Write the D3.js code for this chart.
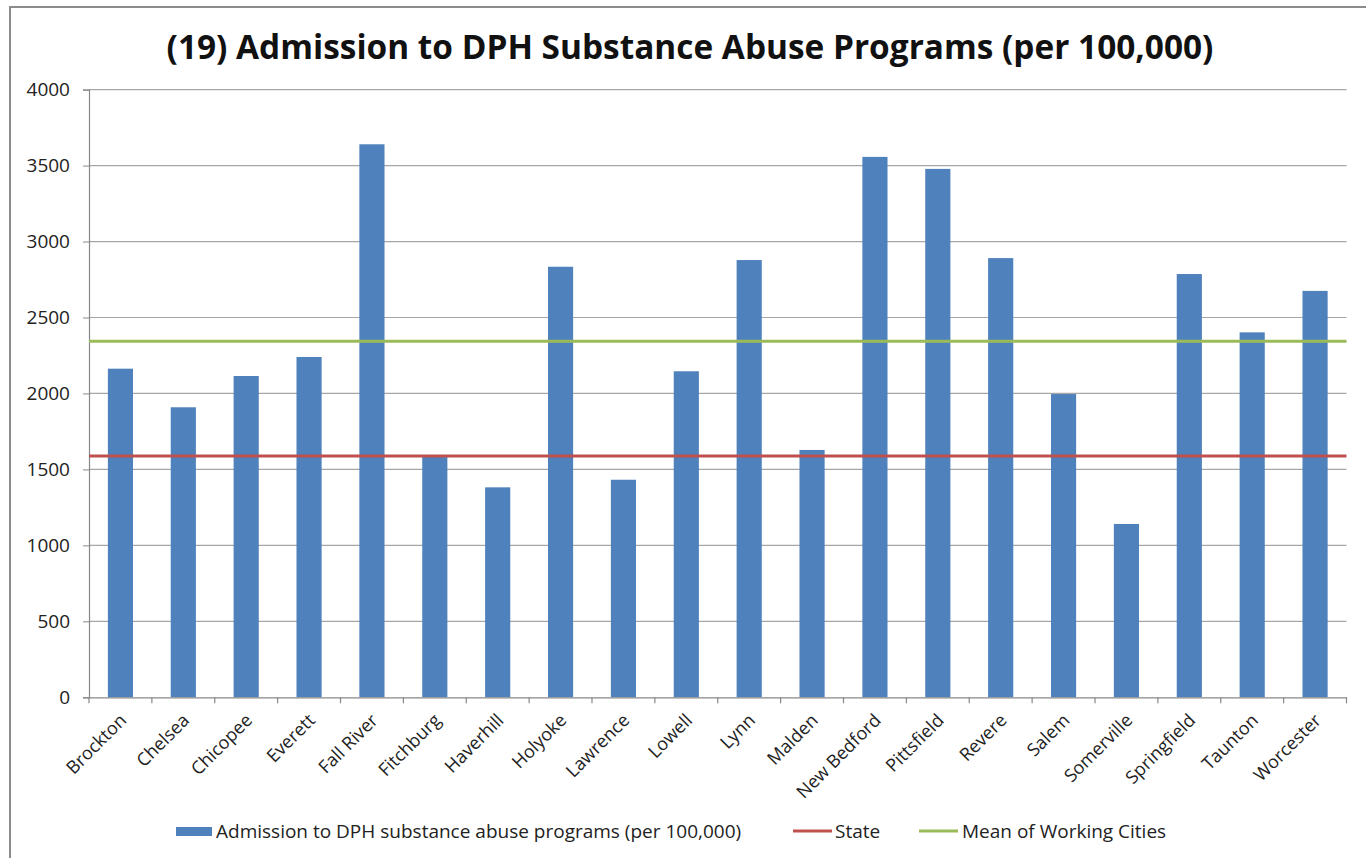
<!DOCTYPE html>
<html>
<head>
<meta charset="utf-8">
<script src="https://cdn.jsdelivr.net/npm/d3@7"></script>
<style>
  html, body { margin: 0; padding: 0; background: #fff; }
  svg { display: block; font-family: "Open Sans", "DejaVu Sans", sans-serif; }
</style>
</head>
<body>
<svg id="chart" width="1366" height="858"></svg>
<script>
const categories = ["Brockton","Chelsea","Chicopee","Everett","Fall River","Fitchburg","Haverhill","Holyoke","Lawrence","Lowell","Lynn","Malden","New Bedford","Pittsfield","Revere","Salem","Somerville","Springfield","Taunton","Worcester"];
const admissions = [2163,1909,2115,2240,3640,1582,1382,2834,1432,2146,2878,1628,3557,3478,2891,1996,1141,2786,2402,2675];
const stateValue = 1588;
const meanValue = 2343;
const yTicks = [0,500,1000,1500,2000,2500,3000,3500,4000];
const titleText = "(19) Admission to DPH Substance Abuse Programs (per 100,000)";
const seriesNames = ["Admission to DPH substance abuse programs (per 100,000)", "State", "Mean of Working Cities"];
const colors = { bar: "#4f81bd", state: "#c0504d", mean: "#9bbb59" };

const svg = d3.select("#chart");

// outer border
svg.append("rect").attr("x", 10).attr("y", 7).attr("width", 1370).attr("height", 900)
  .attr("fill", "none").attr("stroke", "#8c8c8c").attr("stroke-width", 2);

const plotLeft = 89, plotRight = 1346.5, plotTop = 89.6, plotBottom = 697.3;

const x = d3.scaleBand().domain(categories).range([plotLeft, plotRight]).padding(0);
const y = d3.scaleLinear().domain([0, 4000]).range([plotBottom, plotTop]);

// title
svg.append("text").attr("x", 690).attr("y", 59).attr("text-anchor", "middle")
  .attr("font-size", 33.4).attr("font-weight", 700).attr("fill", "#111")
  .text(titleText);

// gridlines
svg.append("g").selectAll("line").data(yTicks.filter(d => d > 0)).join("line")
  .attr("x1", plotLeft).attr("x2", plotRight)
  .attr("y1", d => y(d)).attr("y2", d => y(d))
  .attr("stroke", "#a6a6a6").attr("stroke-width", 1.2);

// y axis
const yAxis = svg.append("g").attr("transform", `translate(${plotLeft},0)`)
  .call(d3.axisLeft(y).tickValues(yTicks).tickFormat(d3.format("d")).tickSize(6).tickPadding(13));
yAxis.select(".domain").attr("stroke", "#888").attr("stroke-width", 1.2);
yAxis.selectAll(".tick line").attr("stroke", "#888");
yAxis.selectAll("text").attr("font-size", 19).attr("fill", "#222")
  .attr("font-family", "\"Open Sans\", sans-serif");

// bars
const bw = x.bandwidth() * 0.4;
svg.append("g").selectAll("rect").data(categories).join("rect")
  .attr("x", (d) => x(d) + (x.bandwidth() - bw) / 2)
  .attr("y", (d, i) => y(admissions[i]))
  .attr("width", bw)
  .attr("height", (d, i) => y(0) - y(admissions[i]))
  .attr("fill", colors.bar);

// x axis
const xAxis = svg.append("g").attr("transform", `translate(0,${plotBottom})`)
  .call(d3.axisBottom(x).tickSize(0).tickFormat(d => d));
xAxis.select(".domain").attr("stroke", "#888").attr("stroke-width", 1.2);
const bounds = categories.map(c => x(c)).concat([plotRight]);
xAxis.selectAll("line.bound").data(bounds).join("line").attr("class", "bound")
  .attr("x1", d => d).attr("x2", d => d).attr("y1", 0).attr("y2", 6)
  .attr("stroke", "#888").attr("stroke-width", 1.2);
xAxis.selectAll(".tick text")
  .attr("font-size", 18).attr("fill", "#222")
  .attr("font-family", "\"Open Sans\", sans-serif")
  .attr("text-anchor", "end")
  .attr("dy", null)
  .attr("transform", "translate(5,22) rotate(-45)");

// state & mean lines
svg.append("line").attr("x1", plotLeft).attr("x2", plotRight)
  .attr("y1", y(stateValue)).attr("y2", y(stateValue))
  .attr("stroke", colors.state).attr("stroke-width", 3);
svg.append("line").attr("x1", plotLeft).attr("x2", plotRight)
  .attr("y1", y(meanValue)).attr("y2", y(meanValue))
  .attr("stroke", colors.mean).attr("stroke-width", 3);

// legend
const ly = 831;
const lg = svg.append("g").attr("font-size", 19).attr("fill", "#222");
lg.append("rect").attr("x", 176).attr("y", ly - 4).attr("width", 36).attr("height", 9).attr("fill", colors.bar);
lg.append("text").attr("x", 216).attr("y", ly).attr("dy", "0.35em").text(seriesNames[0]);
lg.append("line").attr("x1", 793).attr("x2", 832).attr("y1", ly).attr("y2", ly)
  .attr("stroke", colors.state).attr("stroke-width", 3);
lg.append("text").attr("x", 835).attr("y", ly).attr("dy", "0.35em").text(seriesNames[1]);
lg.append("line").attr("x1", 919).attr("x2", 958).attr("y1", ly).attr("y2", ly)
  .attr("stroke", colors.mean).attr("stroke-width", 3);
lg.append("text").attr("x", 962).attr("y", ly).attr("dy", "0.35em").text(seriesNames[2]);
</script>
</body>
</html>
